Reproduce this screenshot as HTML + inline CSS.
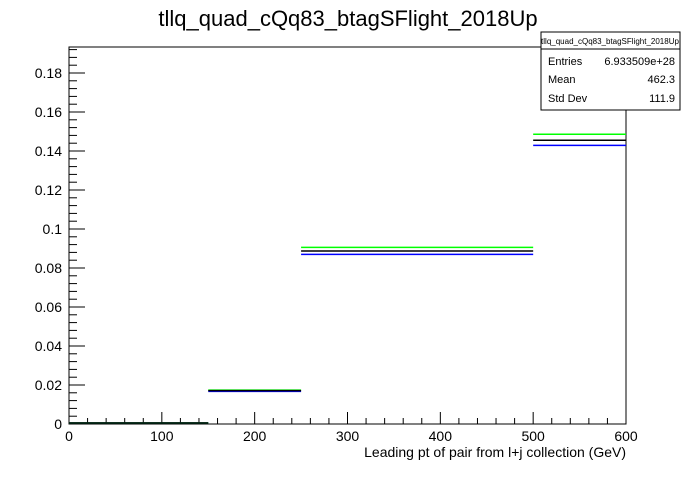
<!DOCTYPE html>
<html><head><meta charset="utf-8"><style>
body{margin:0;background:#fff;font-family:"Liberation Sans",Arial,sans-serif}
svg text{font-family:"Liberation Sans",Arial,sans-serif}
</style></head><body>
<svg id="c" width="696" height="472" xmlns="http://www.w3.org/2000/svg">
<rect width="696" height="472" fill="#fff"/>
<text x="348" y="26" font-size="22" text-anchor="middle">tllq_quad_cQq83_btagSFlight_2018Up</text>
<rect x="69" y="47" width="557" height="377" fill="none" stroke="#000" stroke-width="1"/>
<g id="axes"></g>
<g id="series"></g>
<text x="626" y="457" font-size="14" text-anchor="end">Leading pt of pair from l+j collection (GeV)</text>
<g>
<rect x="541" y="32" width="139" height="78" fill="#fff" stroke="#000"/>
<line x1="541" y1="49" x2="680" y2="49" stroke="#000"/>
<text x="610" y="44" font-size="8" text-anchor="middle">tllq_quad_cQq83_btagSFlight_2018Up</text>
<text x="548" y="65" font-size="11">Entries</text><text x="675" y="65" font-size="11" text-anchor="end">6.933509e+28</text>
<text x="548" y="83" font-size="11">Mean</text><text x="675" y="83" font-size="11" text-anchor="end">462.3</text>
<text x="548" y="102" font-size="11">Std Dev</text><text x="675" y="102" font-size="11" text-anchor="end">111.9</text>
</g>
</svg>
<script>
const binEdges=[0,150,250,500,600];
const greenVals=[0,0.0174,0.0906,0.1486];
const blackVals=[0,0.0171,0.0887,0.1455];
const blueVals=[0,0.0167,0.0870,0.1429];
const xTicks=[0,100,200,300,400,500,600];
const yTicks=[0,0.02,0.04,0.06,0.08,0.1,0.12,0.14,0.16,0.18];
const NS="http://www.w3.org/2000/svg";
const X=v=>69+v*(557/600);
const Y=v=>424-v*1950;
function mk(p,t,a){const e=document.createElementNS(NS,t);for(const k in a)e.setAttribute(k,a[k]);p.appendChild(e);return e;}
const ax=document.getElementById('axes');
for(let v=0;v<=600;v+=20){const big=v%100===0;
const t=mk(ax,'line',{x1:X(v),x2:X(v),y1:424,y2:424-(big?12:6),stroke:'#000'});

}
xTicks.forEach(v=>{const t=mk(ax,'text',{x:X(v),y:441,'font-size':14,'text-anchor':'middle'});t.textContent=v;

});
for(let i=0;i<=48;i++){const v=i*0.004;if(Y(v)<47)break;const big=i%5===0;
const t=mk(ax,'line',{x1:69,x2:69+(big?16:8),y1:Y(v),y2:Y(v),stroke:'#000'});

}
yTicks.forEach(v=>{const t=mk(ax,'text',{x:62,y:Y(v)+5,'font-size':14,'text-anchor':'end'});t.textContent=+v.toFixed(2);

});
const sg=document.getElementById('series');
[[blueVals,'#0000ff','blue'],[greenVals,'#00ff00','green'],[blackVals,'#000','black']].forEach(([vals,col,nm])=>{
vals.forEach((v,i)=>{const y=Math.min(Y(v),423);
const l=mk(sg,'line',{x1:X(binEdges[i]),x2:X(binEdges[i+1]),y1:y,y2:y,stroke:col,'stroke-width':1.5});

});});
</script>
</body></html>
